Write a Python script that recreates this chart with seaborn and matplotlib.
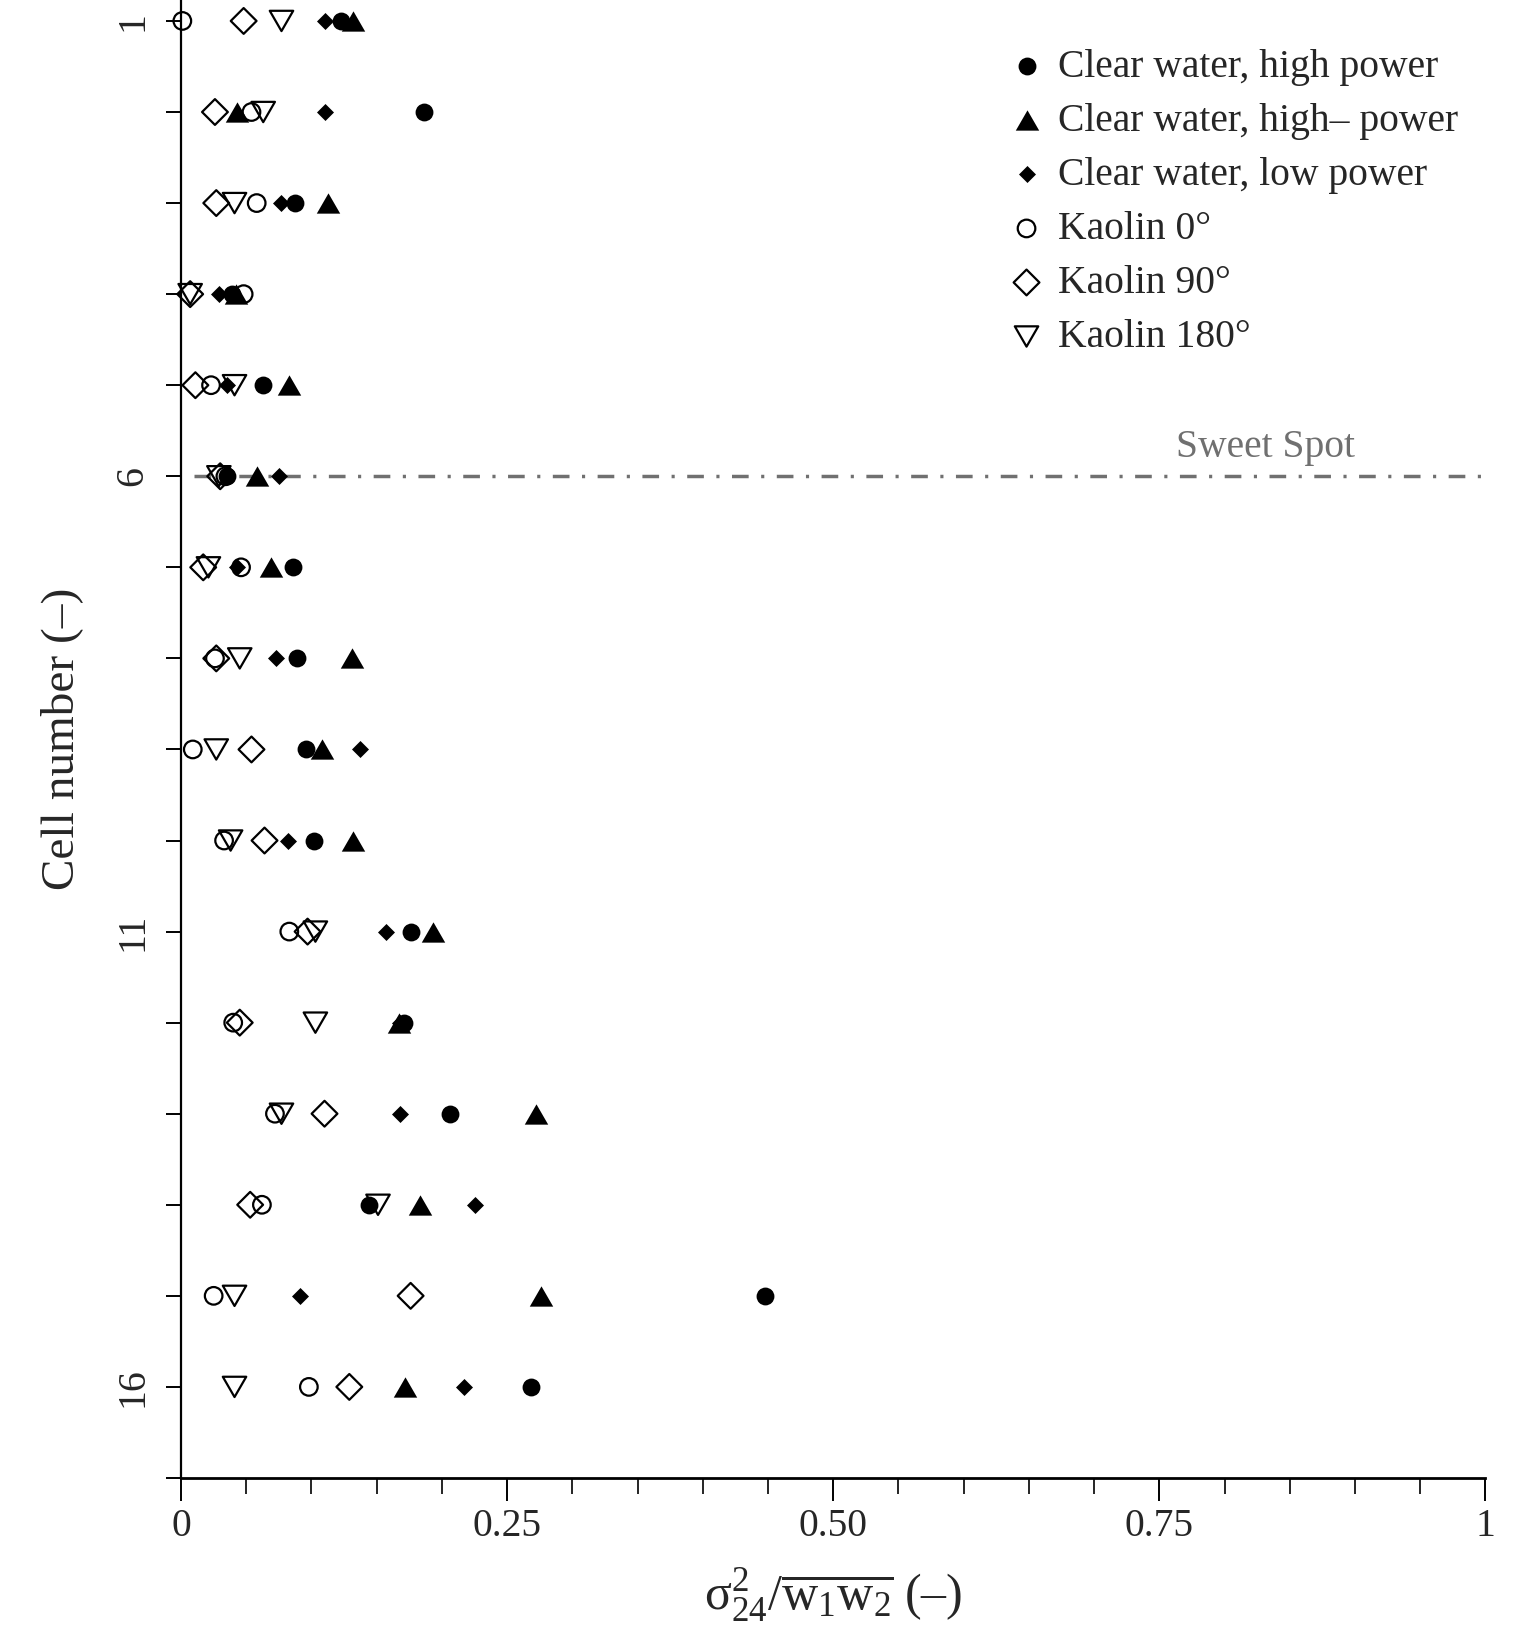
import numpy as np
import pandas as pd
import matplotlib
matplotlib.use("Agg")
import matplotlib.pyplot as plt
import seaborn as sns
from matplotlib.path import Path
from matplotlib.ticker import FixedLocator, MultipleLocator

# ---------------- data ----------------
cells = list(range(1, 17))
clear_high = [0.123, 0.186, 0.087, 0.039, 0.063, 0.035, 0.086, 0.089,
              0.096, 0.102, 0.176, 0.171, 0.206, 0.144, 0.448, 0.268]
clear_high_minus = [0.132, 0.043, 0.113, 0.042, 0.083, 0.058, 0.069, 0.131,
                    0.108, 0.132, 0.193, 0.167, 0.272, 0.183, 0.276, 0.172]
clear_low = [0.110, 0.110, 0.077, 0.029, 0.035, 0.075, 0.043, 0.073,
             0.137, 0.082, 0.157, 0.168, 0.168, 0.225, 0.091, 0.217]
kaolin_0 = [0.001, 0.054, 0.058, 0.048, 0.023, 0.034, 0.046, 0.026,
            0.009, 0.033, 0.083, 0.040, 0.072, 0.062, 0.025, 0.098]
kaolin_90 = [0.048, 0.026, 0.027, 0.007, 0.011, 0.030, 0.017, 0.027,
             0.054, 0.064, 0.097, 0.045, 0.110, 0.053, 0.176, 0.129]
kaolin_180 = [0.077, 0.063, 0.041, 0.007, 0.041, 0.029, 0.021, 0.045,
              0.027, 0.038, 0.103, 0.103, 0.077, 0.151, 0.041, 0.041]

series_labels = ["Clear water, high power", "Clear water, high\u2013 power",
                 "Clear water, low power", "Kaolin 0\u00b0", "Kaolin 90\u00b0",
                 "Kaolin 180\u00b0"]
x_ticks = [0, 0.25, 0.5, 0.75, 1]
x_tick_labels = ["0", "0.25", "0.50", "0.75", "1"]
y_ticks = list(range(1, 18))
y_ticks_labelled = [1, 6, 11, 16]
sweet_spot_cell = 6
sweet_spot_label = "Sweet Spot"
sweet_spot_text_x = 0.831
x_label = r"$\mathrm{\sigma}^{2}_{24}/\overline{\mathrm{w}_{1}\mathrm{w}_{2}}$" + " (\u2013)"
y_label = "Cell number (\u2013)"

# ---------------- style ----------------
sns.set_style("ticks")
plt.rcParams["font.family"] = ["Liberation Serif", "DejaVu Serif"]
plt.rcParams["mathtext.fontset"] = "custom"
plt.rcParams["mathtext.rm"] = "Liberation Serif"
plt.rcParams["mathtext.it"] = "Liberation Serif:italic"
plt.rcParams["mathtext.bf"] = "Liberation Serif:bold"


def closed(verts):
    return Path(verts + [verts[0]], closed=True)


TRI_UP = closed([(-1, -0.866), (1, -0.866), (0, 0.866)])
TRI_DOWN = closed([(-1, 0.866), (1, 0.866), (0, -0.866)])
DIAMOND = closed([(0, 1), (1, 0), (0, -1), (-1, 0)])

styles = [
    dict(marker="o", s=165, facecolor="black", edgecolor="black", linewidth=0),
    dict(marker=TRI_UP, s=285, facecolor="black", edgecolor="black", linewidth=0),
    dict(marker=DIAMOND, s=150, facecolor="black", edgecolor="black", linewidth=0),
    dict(marker="o", s=160, facecolor="none", edgecolor="black", linewidth=1.6),
    dict(marker=DIAMOND, s=345, facecolor="none", edgecolor="black", linewidth=1.6),
    dict(marker=TRI_DOWN, s=285, facecolor="none", edgecolor="black", linewidth=1.6),
]
series = [clear_high, clear_high_minus, clear_low, kaolin_0, kaolin_90, kaolin_180]

fig = plt.figure(figsize=(15.15, 16.36), dpi=100)
ax = fig.add_axes([0.1195, 0.0966, 0.861, 0.9034])

ax.axhline(sweet_spot_cell, xmin=0.01, xmax=1.0, color="#707070", lw=2.5,
           linestyle=(0, (4.8, 3.6, 0.9, 3.6)), zorder=1)

for vals, lab, st in zip(series, series_labels, styles):
    df = pd.DataFrame({"value": vals, "cell": cells})
    sns.scatterplot(data=df, x="value", y="cell", ax=ax, label=lab,
                    zorder=3, clip_on=False, **st)

ax.text(sweet_spot_text_x, sweet_spot_cell - 0.21, sweet_spot_label,
        ha="center", va="baseline", color="#707070", fontsize=28.5)

ax.set_xlim(0, 1)
ax.set_ylim(17, 0.77)
ax.xaxis.set_major_locator(FixedLocator(x_ticks))
ax.set_xticklabels(x_tick_labels)
ax.xaxis.set_minor_locator(MultipleLocator(0.05))
ax.yaxis.set_major_locator(FixedLocator(y_ticks))
ax.set_yticklabels([str(c) if c in y_ticks_labelled else "" for c in y_ticks])

ax.tick_params(axis="x", which="major", length=16.5, width=1.4, pad=5,
               labelsize=28.5, color="black", direction="out")
ax.tick_params(axis="x", which="minor", length=11.5, width=1.2,
               color="black", direction="out")
ax.tick_params(axis="y", which="major", length=10.6, width=1.4, pad=11,
               labelsize=28.5, labelrotation=90, color="black", direction="out")
for t in ax.get_yticklabels():
    t.set_va("center")

sns.despine(ax=ax)
ax.spines["left"].set_linewidth(1.6)
ax.spines["bottom"].set_linewidth(2.0)
ax.spines["left"].set_color("black")
ax.spines["bottom"].set_color("black")

ax.set_xlabel(x_label, fontsize=36, labelpad=16)
ax.set_ylabel(y_label, fontsize=34, labelpad=22)

leg = ax.legend(loc="upper left", bbox_to_anchor=(0.633, 0.967), frameon=False,
                fontsize=28.5, handlelength=1.0, handletextpad=0.3,
                labelspacing=0.43, borderpad=0, borderaxespad=0,
                scatterpoints=1, markerscale=1.0)

fig.savefig("out.png", dpi=100, facecolor="white")
